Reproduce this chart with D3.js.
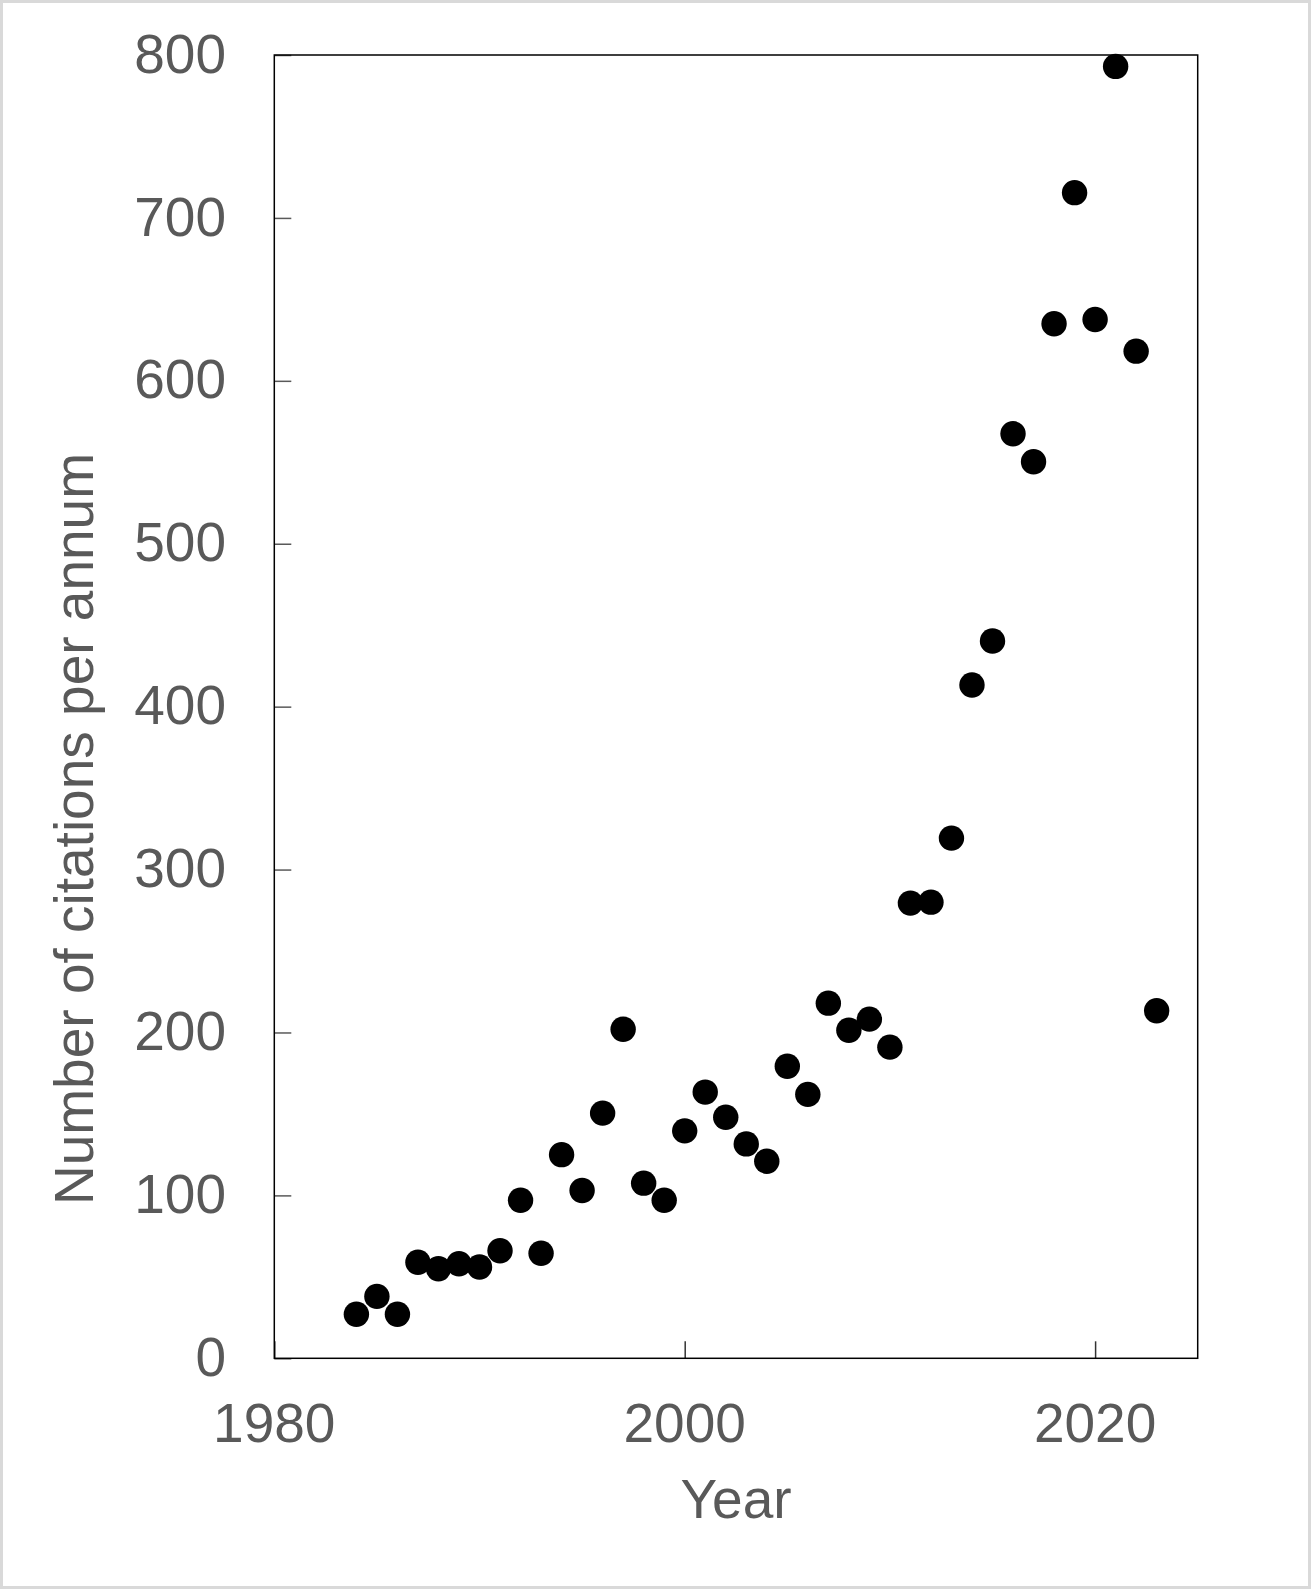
<!DOCTYPE html>
<html>
<head>
<meta charset="utf-8">
<script src="https://cdn.jsdelivr.net/npm/d3@7"></script>
<style>
  html, body { margin: 0; padding: 0; background: #fff; }
  svg { display: block; }
  text { font-family: "Liberation Sans", Arial, sans-serif; fill: #595959; }
</style>
</head>
<body>
<script>
const years = [1984,1985,1986,1987,1988,1989,1990,1991,1992,1993,1994,1995,1996,1997,1998,1999,2000,2001,2002,2003,2004,2005,2006,2007,2008,2009,2010,2011,2012,2013,2014,2015,2016,2017,2018,2019,2020,2021,2022,2023];
const citations = [27,38,27,59,55,58,56,66,97,64.5,125,103,150.5,202,107.5,97,139.6,163.4,148,131.6,121,179.3,162,218,201.4,208.2,191,279.4,280,319.3,413.3,440.3,567.5,550.3,635,715.5,637.6,793,618.2,213.3];
const xTicks = [1980, 2000, 2020];
const yTicks = [0,100,200,300,400,500,600,700,800];
const xTitle = "Year";
const yTitle = "Number of citations per annum";

const W = 1311, H = 1589;
const L = 274.3, R = 1197.7, T = 55, B = 1358.3;

const svg = d3.select("body").append("svg").attr("width", W).attr("height", H);
svg.append("rect").attr("x",1.5).attr("y",1.5).attr("width",W-3).attr("height",H-3)
  .attr("fill","#fff").attr("stroke","#d9d9d9").attr("stroke-width",3);

const x = d3.scaleLinear().domain([1980, 2025]).range([L, R]);
const y = d3.scaleLinear().domain([0, 800]).range([B, T]);

// ticks (inward)
const xAxis = svg.append("g").attr("transform", `translate(0,${B})`)
  .call(d3.axisBottom(x).tickValues(xTicks).tickSize(-17).tickFormat(d3.format("d")).tickPadding(0));
xAxis.select(".domain").remove();
xAxis.selectAll("line").attr("stroke","#333").attr("stroke-width",1.5);
xAxis.selectAll("text").remove();

const yAxis = svg.append("g").attr("transform", `translate(${L},0)`)
  .call(d3.axisLeft(y).tickValues(yTicks).tickSize(-17));
yAxis.select(".domain").remove();
yAxis.selectAll("line").attr("stroke","#595959").attr("stroke-width",1.5);
yAxis.selectAll("text").remove();

// frame
svg.append("rect").attr("x",L).attr("y",T).attr("width",R-L).attr("height",B-T)
  .attr("fill","none").attr("stroke","#000").attr("stroke-width",1.5);

// tick labels
svg.selectAll("text.xl").data(xTicks).enter().append("text").attr("class","xl")
  .attr("x", d => x(d)).attr("y", 1441.7).attr("text-anchor","middle")
  .attr("font-size", 55).text(d => d);
svg.selectAll("text.yl").data(yTicks).enter().append("text").attr("class","yl")
  .attr("x", 226).attr("y", d => y(d)).attr("dy","0.32em").attr("text-anchor","end")
  .attr("font-size", 55).text(d => d);

// titles
svg.append("text").attr("x", (L+R)/2).attr("y", 1518).attr("text-anchor","middle")
  .attr("font-size", 55).text(xTitle);
svg.append("text").attr("transform", "translate(93,829) rotate(-90)")
  .attr("text-anchor","middle").attr("font-size", 55).text(yTitle);

// points
svg.selectAll("circle.pt").data(years.map((yr,i)=>({yr, v: citations[i]}))).enter()
  .append("circle").attr("class","pt")
  .attr("cx", d => x(d.yr)).attr("cy", d => y(d.v)).attr("r", 12.7).attr("fill","#000");
</script>
</body>
</html>
